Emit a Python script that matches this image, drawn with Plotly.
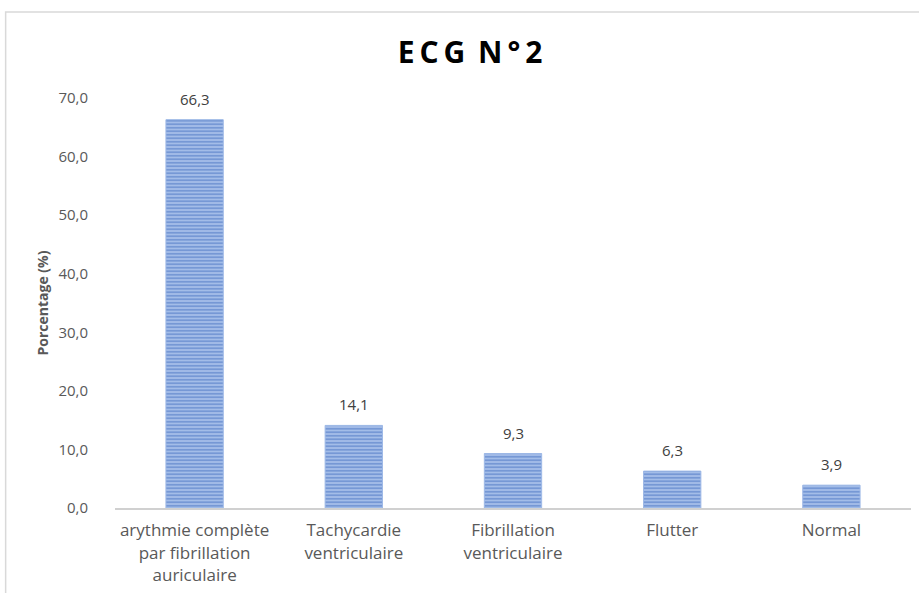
import plotly.graph_objects as go

categories = [
    "arythmie complète<br>par fibrillation<br>auriculaire",
    "Tachycardie<br>ventriculaire",
    "Fibrillation<br>ventriculaire",
    "Flutter",
    "Normal",
]
percentages = [66.3, 14.1, 9.3, 6.3, 3.9]
y_ticks = [0, 10, 20, 30, 40, 50, 60, 70]

FONT = "Open Sans, Noto Sans, sans-serif"
TS = "\u2009"  # thin space used to open up the title lettering

fig = go.Figure()
fig.add_trace(go.Bar(
    x=categories,
    y=percentages,
    marker=dict(
        color="#A9C2EA",
        line=dict(color="#9DB8E6", width=1),
        pattern=dict(shape="-", size=3.5, solidity=0.6,
                     fgcolor="#3D6CBD", bgcolor="#AEC5EC", fillmode="overlay"),
    ),
    width=0.36,
    hoverinfo="x+y",
))

# value labels above each bar
for cat, val in zip(categories, percentages):
    fig.add_annotation(
        x=cat, y=val, xref="x", yref="y",
        text=f"{val:.1f}".replace(".", ","),
        showarrow=False, yanchor="bottom", yshift=9,
        font=dict(family=FONT, size=15, color="#404040"),
    )

title_text = TS.join("ECG") + TS + " " + TS.join("N°2")

fig.update_layout(
    width=919, height=593,
    margin=dict(l=114.5, r=7.5, t=98, b=85),
    paper_bgcolor="white",
    plot_bgcolor="white",
    separators=", ",
    showlegend=False,
    title=dict(
        text=f"<b>{title_text}</b>",
        x=(470 - 114.5) / 797, xref="paper", xanchor="center",
        y=1 - 52 / 593, yanchor="middle",
        font=dict(family=FONT, size=30, color="#000000"),
    ),
    xaxis=dict(
        showline=True, linecolor="#D0D0D0", linewidth=2,
        ticks="", showgrid=False,
        ticklabelstandoff=6,
        tickfont=dict(family=FONT, size=17, color="#595959"),
    ),
    yaxis=dict(
        range=[0, 70],
        tickvals=y_ticks,
        tickformat=".1f",
        showgrid=False, showline=False, zeroline=False,
        ticks="",
        ticklabelstandoff=26,
        tickfont=dict(family=FONT, size=15, color="#595959"),
        title=dict(text="<b>Porcentage (%)</b>",
                   font=dict(family=FONT, size=14, color="#595959"),
                   standoff=6),
    ),
    shapes=[dict(
        type="rect", xref="paper", yref="paper",
        x0=(5 - 114.5) / 797, x1=1.05,
        y0=-0.3, y1=(508 - 12) / 410,
        line=dict(color="#D9D9D9", width=1.5),
        fillcolor="rgba(0,0,0,0)",
        layer="below",
    )],
)

fig.write_html("out.html")
